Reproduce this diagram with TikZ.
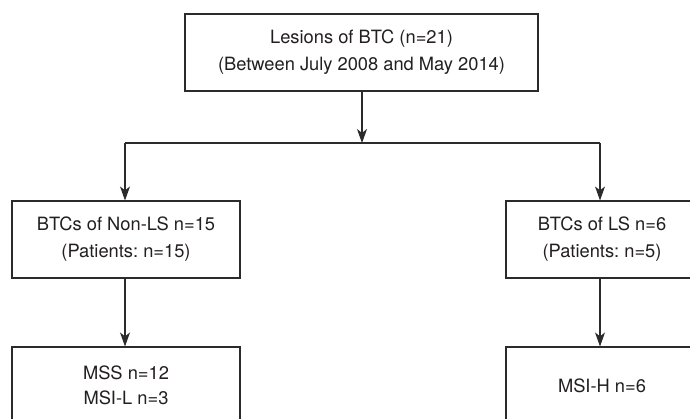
\documentclass[tikz,border=0pt]{standalone}
\usepackage{fontspec}
\setmainfont{TeX Gyre Heros}
\usetikzlibrary{arrows.meta}
\definecolor{lineclr}{HTML}{2B2B2B}
\definecolor{txtclr}{HTML}{231F20}
\frenchspacing
\tikzset{
  box/.style={draw=lineclr, line width=1.1pt, inner sep=0pt, minimum height=77pt,
    align=center, text=txtclr, font=\fontsize{18.3}{27}\selectfont\frenchspacing},
  conn/.style={draw=lineclr, line width=1.1pt},
  arr/.style={conn, -{Stealth[length=14pt, width=10pt, inset=4pt]}}
}
\begin{document}
\begin{tikzpicture}[x=1pt, y=-1pt]
  \path[use as bounding box, clip] (0,0) rectangle (690,419);
  \fill[white] (0,0) rectangle (690,419);
  \node[box, minimum width=353pt] (top) at (361.5,52.5) {Lesions of BTC (n=21)\\(Between July 2008 and May 2014)};
  \node[box, minimum width=228pt] (nonls) at (126,239.5) {BTCs of Non-LS n=15\\(Patients: n=15)};
  \node[box, minimum width=192pt] (ls) at (602,239.5) {BTCs of LS n=6\\(Patients: n=5)};
  \node[box, minimum width=228pt, font=\fontsize{18.3}{25}\selectfont\frenchspacing] (mss) at (126,385.5) {MSS n=12\\MSI-L n=3};
  \node[box, minimum width=192pt] (msih) at (602,385.5) {MSI-H n=6};
  \coordinate (split) at (362,143);
  \coordinate (lc) at (125,143);
  \coordinate (rc) at (600,143);
  \draw[arr] (top.south -| split) -- (split);
  \draw[conn] (lc) -- (rc);
  \draw[arr] (lc) -- (lc |- nonls.north);
  \draw[arr] (rc) -- (rc |- ls.north);
  \draw[arr] (nonls.south -| lc) -- (lc |- mss.north);
  \draw[arr] (ls.south -| rc) -- (rc |- msih.north);
\end{tikzpicture}
\end{document}
